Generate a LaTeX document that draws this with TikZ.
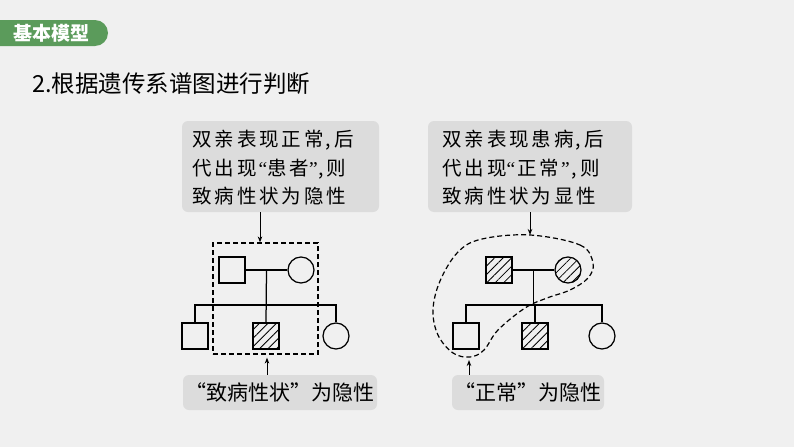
\documentclass[tikz,border=0pt]{standalone}
\usepackage{fontspec}
\setmainfont{Liberation Serif}
\newfontfamily\cjk{Noto Sans CJK SC}
\newfontfamily\cjkls{Noto Sans CJK SC}[LetterSpace=15]
\newfontfamily\qfont{Liberation Serif}
\newcommand{\myLq}{{\qfont “}}
\newcommand{\myRq}{{\qfont ”}}
\usetikzlibrary{arrows.meta,patterns.meta,calc}
\definecolor{bg}{HTML}{F0F0F0}
\definecolor{boxg}{HTML}{DCDCDC}
\definecolor{tabg}{HTML}{5B9B5B}
\tikzset{
  callbox/.style={fill=boxg, rounded corners=6pt, minimum width=#1, minimum height=91pt, inner sep=0pt},
  lblbox/.style={fill=boxg, rounded corners=6pt, minimum width=#1, minimum height=35pt, inner sep=0pt,
    font=\cjk\fontsize{21}{24}\selectfont},
  calltext/.style={anchor=west, align=left, inner sep=0pt, font=\cjkls\fontsize{19.5}{28.5}\selectfont},
  male/.style={draw, line width=1.25pt, minimum size=26pt, inner sep=0pt},
  female/.style={draw, circle, line width=1.25pt, minimum size=26pt, inner sep=0pt},
  ill/.style={pattern={Lines[angle=45,distance=6pt,line width=0.8pt]}},
  ped/.style={line width=1.25pt},
  dashfence/.style={line width=1.2pt, dash pattern=on 5pt off 3pt},
  arr/.style={-{Stealth[length=6pt,width=4.5pt]}, line width=1pt},
}
\begin{document}
\begin{tikzpicture}[x=1pt,y=-1pt]
\useasboundingbox[fill=bg] (0,0) rectangle (794,447);

% tab
\fill[tabg, rounded corners=13pt] (-20,20) rectangle (108,46);
\node[text=white, font=\cjk\bfseries\fontsize{19}{20}\selectfont] (tab) at (51,33) {基本模型};
% title
\node[anchor=west, inner sep=0pt, font=\cjk\fontsize{23.5}{26}\selectfont] (title) at (32,84) {2.根据遗传系谱图进行判断};

% ===== left =====
\node[callbox=197pt] (boxL) at (280.5,166.5) {};
\node[calltext] (txtL) at (192,168) {双亲表现正常\hspace{2pt},\hspace{3pt}后\\代出现\hspace{2pt}\myLq 患者\myRq\hspace{1pt},\hspace{2pt}则\\致病性状为隐性};

\node[draw, dashfence, minimum width=105pt, minimum height=111pt, inner sep=0pt] (dashL) at (265.5,298.5) {};
\coordinate (aL) at (260,0);
\draw[arr] (boxL.south -| aL) -- (dashL.north -| aL);

\node[male] (fL) at (232,270) {};
\node[female] (mL) at (301,270) {};
\node[male] (c1L) at (195,336) {};
\node[male, ill] (c2L) at (266,336) {};
\node[female] (c3L) at (336,336) {};
\coordinate (sibL) at (266,305);
\draw[ped] (fL) -- (mL);
\draw[ped] ($(fL.east)!0.5!(mL.west)$) -- (c2L.north);
\draw[ped] (c1L.north) -- (c1L.north |- sibL) -- (c3L.north |- sibL) -- (c3L.north);

\node[lblbox=194pt] (lblL) at (280,392.5) {“致病性状”为隐性};
\coordinate (bL) at (267,0);
\draw[arr, shorten >=3pt] (lblL.north -| bL) -- (dashL.south -| bL);

% ===== right =====
\node[callbox=204pt] (boxR) at (530,166.5) {};
\node[calltext] (txtR) at (442,168) {双亲表现患病\hspace{2pt},\hspace{3pt}后\\代出现\myLq\hspace{2pt}正常\hspace{2pt}\myRq\hspace{2pt},\hspace{3pt}则\\致病性状为显性};

\node[male, ill] (fR) at (499,270) {};
\node[female, ill] (mR) at (568,270) {};
\node[male] (c1R) at (466,336) {};
\node[male, ill] (c2R) at (535,336) {};
\node[female] (c3R) at (602,336) {};
\coordinate (sibR) at (533.5,305);
\draw[ped] (fR) -- (mR);
\draw[ped] ($(fR.east)!0.5!(mR.west)$) -- (sibR);
\draw[ped] (c1R.north) -- (c1R.north |- sibR) -- (c3R.north |- sibR) -- (c3R.north);
\draw[ped] (c2R.north |- sibR) -- (c2R.north);

\draw[dashfence] plot[smooth cycle, tension=0.6] coordinates {
 (530,235) (580,245) (593,263) (588,278) (570,290) (547,298) (525,308) (498,330)
 (484,350) (470,357) (453,353) (438,335) (433,310) (440,281) (458,252) (482,239)};
\coordinate (curveTop) at (530,235);
\coordinate (curveBot) at (469,358);

\node[callbox=152pt, minimum height=35pt, font=\cjk\fontsize{21}{24}\selectfont] (lblR) at (528,392.5) {“正常”为隐性};
\draw[arr] (boxR.south -| curveTop) -- (curveTop);
\draw[arr, shorten >=2pt] (lblR.north -| curveBot) -- (curveBot);
\end{tikzpicture}
\end{document}
